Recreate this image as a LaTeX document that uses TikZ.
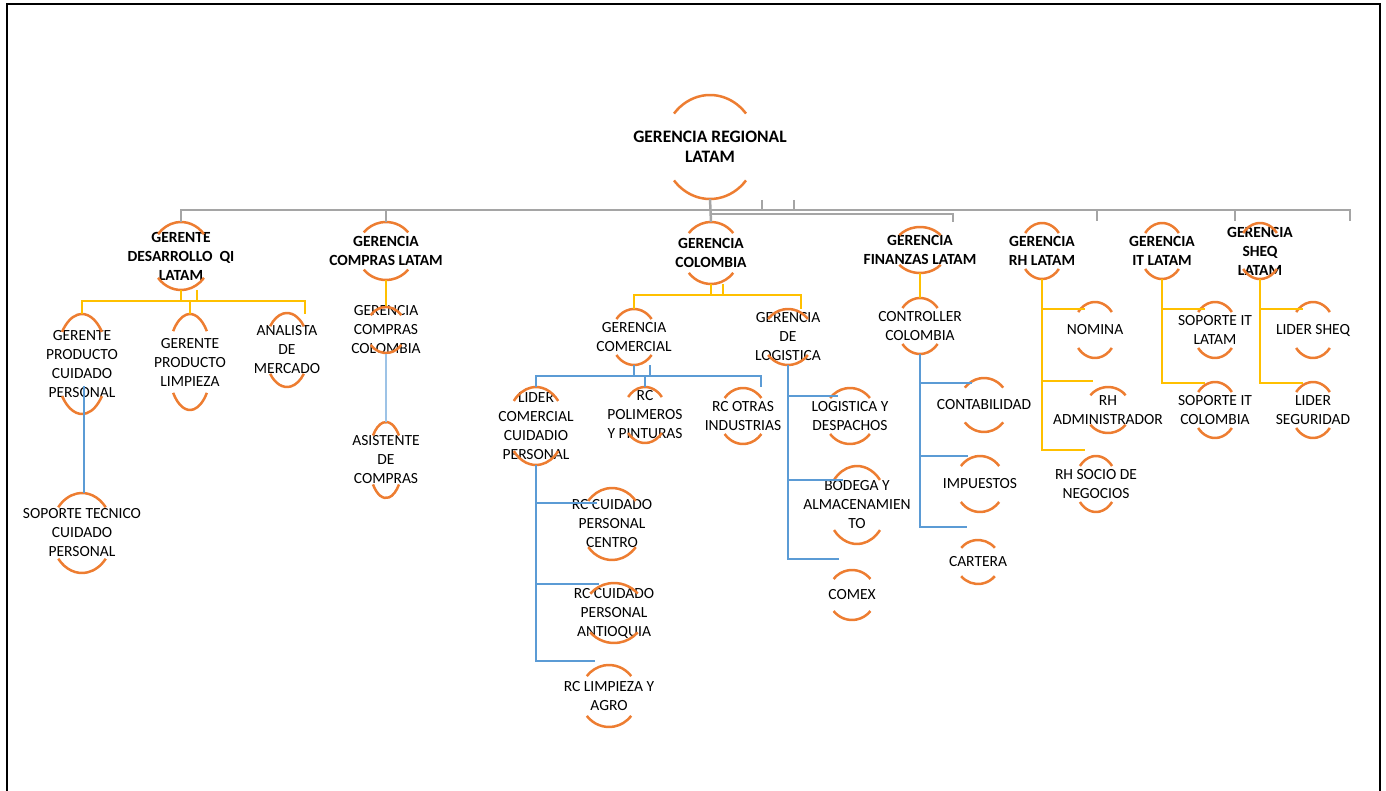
\documentclass[tikz,border=0pt]{standalone}
\usepackage{fontspec}
\setmainfont{Carlito}
\usepackage{xcolor}
\usepackage{tikz}

\definecolor{naranja}{HTML}{ED7D31}
\definecolor{amarillo}{HTML}{FFC000}
\definecolor{azul}{HTML}{5B9BD5}
\definecolor{celeste}{HTML}{9DC3E6}
\definecolor{gris}{HTML}{A5A5A5}

\newcommand{\cargo}[6]{%
  \node[#5, minimum width=#3*2pt, minimum height=#4*2pt] (#1) at (#2) {#6};
  \draw[arco] (#1.center) ++(40:#3pt and #4pt) arc[start angle=40, end angle=140, x radius=#3pt, y radius=#4pt]
              (#1.center) ++(220:#3pt and #4pt) arc[start angle=220, end angle=320, x radius=#3pt, y radius=#4pt];
}

\begin{document}
\begin{tikzpicture}[x=1pt, y=-1pt,
    every node/.style={align=center, inner sep=0pt, text=black},
    titulo/.style={font=\bfseries\fontsize{17.5}{20}\selectfont},
    gerente/.style={font=\bfseries\fontsize{15.5}{19}\selectfont},
    puesto/.style={font=\fontsize{15.5}{19}\selectfont}
  ]
  \tikzset{
    arco/.style={draw=naranja, line width=2.5pt},
    rama gris/.style={draw=gris, line width=2.5pt},
    rama amarilla/.style={draw=amarillo, line width=2.5pt},
    rama azul/.style={draw=azul, line width=2.5pt},
    rama celeste/.style={draw=celeste, line width=2pt}
  }
  \useasboundingbox (0,0) rectangle (1386,791);
  \draw[line width=2.5pt] (7,795) -- (7,4) -- (1380,4) -- (1380,795);

  \cargo{regional}{710,147}{47}{52}{titulo}{GERENCIA REGIONAL\\LATAM}
  \cargo{desarrollo}{181,256}{30}{34}{gerente}{GERENTE\\DESARROLLO~~QI\\LATAM}
  \cargo{compras}{386,251}{29}{29}{gerente}{GERENCIA\\COMPRAS LATAM}
  \cargo{colombia}{711,253}{29}{31}{gerente}{GERENCIA\\COLOMBIA}
  \cargo{finanzas}{920,250}{27}{23}{gerente}{GERENCIA\\FINANZAS LATAM}
  \cargo{rh}{1042,251}{22}{28}{gerente}{GERENCIA\\RH LATAM}
  \cargo{it}{1162,251}{22}{28}{gerente}{GERENCIA\\IT LATAM}
  \cargo{sheq}{1260,251}{22}{28}{gerente}{GERENCIA\\SHEQ\\LATAM}

  \cargo{cuidado}{82,364}{26}{50}{puesto}{GERENTE\\PRODUCTO\\CUIDADO\\PERSONAL}
  \cargo{limpieza}{190,362}{22}{48}{puesto}{GERENTE\\PRODUCTO\\LIMPIEZA}
  \cargo{analista}{287,350}{22}{37}{puesto}{ANALISTA\\DE\\MERCADO}
  \cargo{soporte}{82,533}{31}{40}{puesto}{SOPORTE TECNICO\\CUIDADO\\PERSONAL}
  \cargo{comprascol}{386,330}{20}{23}{puesto}{GERENCIA\\COMPRAS\\COLOMBIA}
  \cargo{asistente}{386,460}{17}{38}{puesto}{ASISTENTE\\DE\\COMPRAS}
  \cargo{comercial}{634,337}{23}{28}{puesto}{GERENCIA\\COMERCIAL}
  \cargo{logistica}{788,337}{26}{28}{puesto}{GERENCIA\\DE\\LOGISTICA}
  \cargo{lider}{536,426}{29}{39}{puesto}{LIDER\\COMERCIAL\\CUIDADIO\\PERSONAL}
  \cargo{polimeros}{645,415}{22}{28}{puesto}{RC\\POLIMEROS\\Y PINTURAS}
  \cargo{otras}{743,416}{24}{28}{puesto}{RC OTRAS\\INDUSTRIAS}
  \cargo{centro}{612,524}{31}{36}{puesto}{RC CUIDADO\\PERSONAL\\CENTRO}
  \cargo{antioquia}{614,613}{31}{30}{puesto}{RC CUIDADO\\PERSONAL\\ANTIOQUIA}
  \cargo{agro}{609,696}{29}{31}{puesto}{RC LIMPIEZA Y\\AGRO}
  \cargo{despachos}{850,416}{26}{28}{puesto}{LOGISTICA Y\\DESPACHOS}
  \cargo{bodega}{857,505}{30}{39}{puesto}{BODEGA Y\\ALMACENAMIEN\\TO}
  \cargo{comex}{852,595}{24}{25}{puesto}{COMEX}
  \cargo{controller}{920,326}{23}{28}{puesto}{CONTROLLER\\COLOMBIA}
  \cargo{contabilidad}{984,405}{25}{27}{puesto}{CONTABILIDAD}
  \cargo{impuestos}{980,484}{25}{28}{puesto}{IMPUESTOS}
  \cargo{cartera}{978,562}{22}{22}{puesto}{CARTERA}
  \cargo{nomina}{1095,330}{22}{28}{puesto}{NOMINA}
  \cargo{administrador}{1108,410}{23}{23}{puesto}{RH\\ADMINISTRADOR}
  \cargo{socio}{1096,484}{21}{28}{puesto}{RH SOCIO DE\\NEGOCIOS}
  \cargo{soporteit}{1215,330}{22}{28}{puesto}{SOPORTE IT\\LATAM}
  \cargo{soportecol}{1215,410}{22}{28}{puesto}{SOPORTE IT\\COLOMBIA}
  \cargo{lidersheq}{1313,330}{22}{28}{puesto}{LIDER SHEQ}
  \cargo{seguridad}{1313,410}{22}{28}{puesto}{LIDER\\SEGURIDAD}

  \coordinate (barra) at (710,210);
  \coordinate (barra2) at (710,214);
  \coordinate (s1) at (762,200);
  \coordinate (s2) at (794,200);
  \coordinate (tfin) at (953,222);
  \coordinate (trh) at (1097,221);
  \coordinate (tit) at (1235,221);
  \coordinate (tsheq) at (1350,221);
  \draw[rama gris] (desarrollo.north) |- (barra) -| (tsheq);
  \draw[rama gris] (compras.north) -- (compras.north |- barra);
  \draw[rama gris] (regional.south) -- (colombia.north);
  \draw[rama gris] (barra2) -| (tfin);
  \draw[rama gris] (s1) -- (s1 |- barra) (s2) -- (s2 |- barra)
                   (trh) -- (trh |- barra) (tit) -- (tit |- barra);

  \coordinate (yd) at (305,301);
  \coordinate (yd1) at (197,290);
  \draw[rama amarilla] (desarrollo.south) -- (desarrollo.south |- yd);
  \draw[rama amarilla] (cuidado.north) |- (yd) -- (yd |- cuidado.north);
  \draw[rama amarilla] (limpieza.north) -- (limpieza.north |- yd);
  \draw[rama amarilla] (yd1) -- (yd1 |- yd);
  \draw[rama azul] (cuidado.center) ++(2,22) coordinate (cu) -- (cu |- soporte.north);

  \draw[rama amarilla] (compras.south) -- (comprascol.north);
  \draw[rama celeste] (comprascol.south) -- (asistente.north);

  \coordinate (yc) at (801,295);
  \coordinate (yc1) at (723,284);
  \draw[rama amarilla] (colombia.south) -- (colombia.south |- yc);
  \draw[rama amarilla] (yc1) -- (yc1 |- yc);
  \draw[rama amarilla] (comercial.north) |- (yc) -- (yc |- logistica.north);

  \coordinate (ab) at (761,376);
  \coordinate (ab1) at (650,365);
  \draw[rama azul] (comercial.south) -- (comercial.south |- ab);
  \draw[rama azul] (ab1) -- (ab1 |- ab);
  \draw[rama azul] (lider.north) |- (ab) -- (ab |- lider.north);
  \draw[rama azul] (polimeros.north) -- (polimeros.north |- ab);

  \coordinate (c1) at (597,503);
  \coordinate (c2) at (599,584);
  \coordinate (c3) at (595,661);
  \draw[rama azul] (lider.south) |- (c3) (lider.south |- c1) -- (c1) (lider.south |- c2) -- (c2);

  \coordinate (l1) at (838,396);
  \coordinate (l2) at (843,480);
  \coordinate (l3) at (839,559);
  \draw[rama azul] (logistica.south) |- (l3) (logistica.south |- l1) -- (l1) (logistica.south |- l2) -- (l2);

  \draw[rama amarilla] (finanzas.south) -- (controller.north);
  \coordinate (f1) at (972,383);
  \coordinate (f2) at (968,456);
  \coordinate (f3) at (967,527);
  \draw[rama azul] (controller.south) |- (f3) (controller.south |- f1) -- (f1) (controller.south |- f2) -- (f2);

  \coordinate (h1) at (1085,309);
  \coordinate (h2) at (1093,381);
  \coordinate (h3) at (1085,450);
  \draw[rama amarilla] (rh.south) |- (h3) (rh.south |- h1) -- (h1) (rh.south |- h2) -- (h2);

  \coordinate (i1) at (1205,309);
  \coordinate (i2) at (1205,383);
  \draw[rama amarilla] (it.south) |- (i2) (it.south |- i1) -- (i1);

  \coordinate (q1) at (1303,309);
  \coordinate (q2) at (1303,383);
  \draw[rama amarilla] (sheq.south) |- (q2) (sheq.south |- q1) -- (q1);
\end{tikzpicture}
\end{document}
